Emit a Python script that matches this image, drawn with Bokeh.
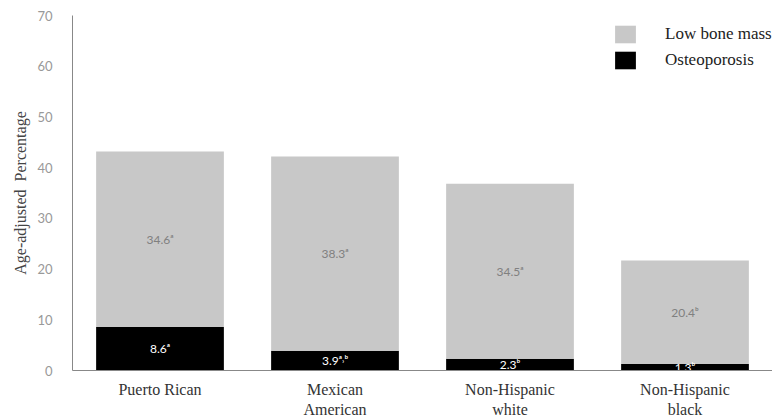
from bokeh.plotting import figure
from bokeh.models import ColumnDataSource, FactorRange, Legend, LegendItem
from bokeh.core.properties import value
from bokeh.embed import file_html
from bokeh.resources import INLINE

categories = ["Puerto Rican", "Mexican\nAmerican", "Non-Hispanic\nwhite", "Non-Hispanic\nblack"]
osteoporosis = [8.6, 3.9, 2.3, 1.3]
low_bone_mass = [34.6, 38.3, 34.5, 20.4]
osteo_labels = ["8.6ᵃ", "3.9ᵃ˒ᵇ", "2.3ᵇ", "1.3ᵇ"]
lbm_labels = ["34.6ᵃ", "38.3ᵃ", "34.5ᵃ", "20.4ᵇ"]
y_ticks = [0, 10, 20, 30, 40, 50, 60, 70]

src = ColumnDataSource(dict(
    cat=categories,
    osteo=osteoporosis,
    lbm=low_bone_mass,
    osteo_mid=[o / 2 for o in osteoporosis],
    lbm_mid=[o + l / 2 for o, l in zip(osteoporosis, low_bone_mass)],
    osteo_lab=osteo_labels,
    lbm_lab=lbm_labels,
))

p = figure(width=772, height=420, x_range=FactorRange(*categories, range_padding=0),
           y_range=(0, 70), output_backend="svg", toolbar_location=None,
           min_border_left=72, min_border_right=0, min_border_top=15, min_border_bottom=48)
p.outline_line_color = None
p.xgrid.grid_line_color = None
p.ygrid.grid_line_color = None

rs = p.vbar_stack(["osteo", "lbm"], x="cat", width=0.73, source=src,
                  color=["#000000", "#c8c8c8"], line_color=None)

p.text(x="cat", y="lbm_mid", text="lbm_lab", source=src, text_align="center",
       text_baseline="middle", text_color="#808080", text_font_size="12px",
       text_font=value("Lato"))
p.text(x="cat", y="osteo_mid", text="osteo_lab", source=src, text_align="center",
       text_baseline="middle", text_color="#ffffff", text_font_size="12px",
       text_font=value("Lato"))

p.yaxis.ticker = y_ticks
p.yaxis.major_tick_line_color = None
p.yaxis.minor_tick_line_color = None
p.yaxis.axis_line_color = "#888888"
p.yaxis.major_label_text_color = "#999999"
p.yaxis.major_label_text_font = "Lato"
p.yaxis.major_label_text_font_size = "13px"
p.yaxis.major_label_standoff = 14
p.yaxis.axis_label = "Age-adjusted\u00a0 Percentage"
p.yaxis.axis_label_text_font = "Liberation Serif"
p.yaxis.axis_label_text_font_style = "normal"
p.yaxis.axis_label_text_font_size = "16px"
p.yaxis.axis_label_text_color = "#444444"
p.yaxis.axis_label_standoff = 5

p.xaxis.major_tick_line_color = None
p.xaxis.minor_tick_line_color = None
p.xaxis.axis_line_color = "#888888"
p.xaxis.major_label_text_color = "#333333"
p.xaxis.major_label_text_font = "Liberation Serif"
p.xaxis.major_label_text_font_size = "16px"
p.xaxis.major_label_standoff = 4

legend = Legend(items=[LegendItem(label="Low bone mass", renderers=[rs[1]]),
                       LegendItem(label="Osteoporosis", renderers=[rs[0]])],
                location=(540, 299), glyph_width=26, glyph_height=22, spacing=4,
                padding=0, margin=0, label_standoff=27,
                label_text_font="Liberation Serif", label_text_font_size="17px",
                label_text_color="#222222", border_line_color=None,
                background_fill_alpha=0)
p.add_layout(legend)

open("out.html", "w").write(file_html(p, INLINE))
